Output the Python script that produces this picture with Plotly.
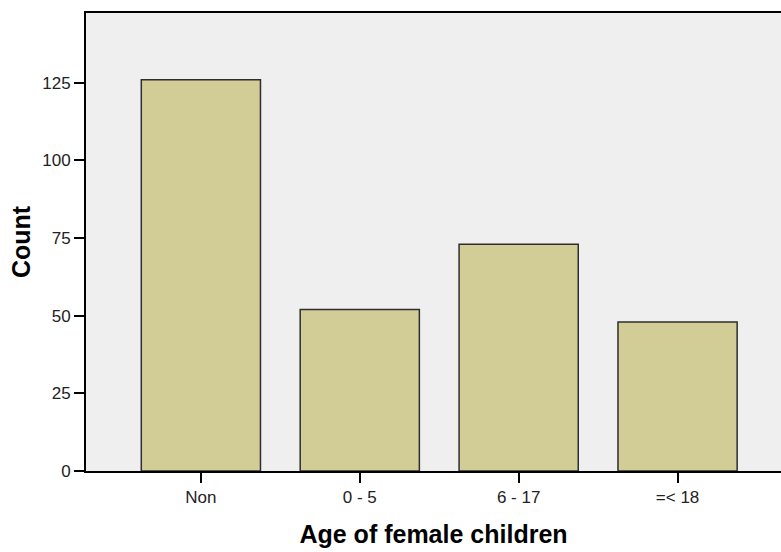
import plotly.graph_objects as go

categories = ["Non", "0 - 5", "6 - 17", "=< 18"]
counts = [126, 52, 73, 48]
y_ticks = [0, 25, 50, 75, 100, 125]

fig = go.Figure(go.Bar(
    x=list(range(len(categories))),
    y=counts,
    width=0.75,
    marker=dict(color="#d2cc96", line=dict(color="#2e2e2e", width=1.5)),
))

fig.update_layout(
    width=781, height=552,
    margin=dict(l=86, r=0, t=13, b=81),
    paper_bgcolor="white",
    plot_bgcolor="#efefef",
    font=dict(family="Liberation Sans, Arial, sans-serif", size=17, color="#000000"),
    showlegend=False,
)
fig.update_xaxes(
    range=[-0.723, 3.651],
    tickmode="array",
    tickvals=list(range(len(categories))),
    ticktext=categories,
    ticks="outside", ticklen=10, tickcolor="#000000", tickwidth=2,
    tickfont=dict(size=17, color="#222222"),
    showline=True, linecolor="#000000", linewidth=2, mirror=True,
    showgrid=False, zeroline=False,
    title=dict(text="<b>Age of female children</b>", font=dict(size=25), standoff=19),
)
fig.update_yaxes(
    range=[0, 147.5],
    tickmode="array",
    tickvals=y_ticks,
    ticks="outside", ticklen=10, tickcolor="#000000", tickwidth=2,
    tickfont=dict(size=17, color="#222222"),
    showline=True, linecolor="#000000", linewidth=2,
    showgrid=False, zeroline=False,
    title=dict(text="<b>Count</b>", font=dict(size=25), standoff=4),
)

fig.write_html(
    "out.html",
    config={"displayModeBar": False},
    post_script="document.body.style.margin='0';",
)
